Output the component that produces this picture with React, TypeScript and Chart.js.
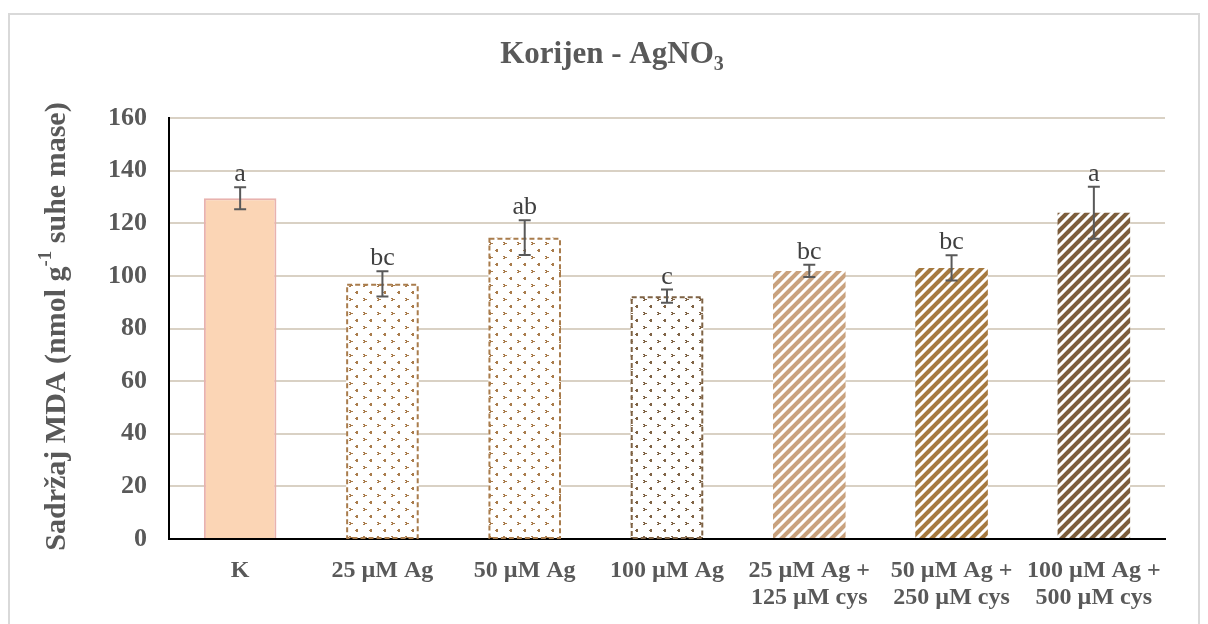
import React, { useEffect, useRef } from "react";
import { Chart, registerables } from "chart.js";

Chart.register(...registerables);

const categories: (string | string[])[] = [
  "K",
  "25 µM Ag",
  "50 µM Ag",
  "100 µM Ag",
  ["25 µM Ag +", "125 µM cys"],
  ["50 µM Ag +", "250 µM cys"],
  ["100 µM Ag +", "500 µM cys"],
];
const mdaValues = [129.5, 97, 114.5, 92.3, 101.9, 103, 124];
const mdaErrors = [4.2, 4.8, 6.6, 2.5, 2.3, 4.8, 9.9];
const letters = ["a", "bc", "ab", "c", "bc", "bc", "a"];
const yTicks = [0, 20, 40, 60, 80, 100, 120, 140, 160];

// fill kind per bar: solid, dotted, striped
const fillKinds = ["solid", "dots", "dots", "dots", "stripes", "stripes", "stripes"];
const fillColors = ["#FBD5B5", "#A97C4C", "#A97C4C", "#7F6345", "#C9A27E", "#A67A40", "#7D5E3D"];
const borderColors = ["#E8B2AE", "#A97C4C", "#A97C4C", "#7F6345", "#C9A27E", "#A67A40", "#7D5E3D"];

const SERIF = "'Liberation Serif', 'Times New Roman', serif";
const GRAY = "#595959";

function dotPattern(color: string): CanvasPattern | string {
  const s = 14;
  const c = document.createElement("canvas");
  c.width = s;
  c.height = s;
  const g = c.getContext("2d");
  if (!g) return color;
  g.fillStyle = "#ffffff";
  g.fillRect(0, 0, s, s);
  g.fillStyle = color;
  // small chevron-like specks in staggered rows
  const speck = (x: number, y: number, dir: number) => {
    g.fillRect(x, y, 2, 1);
    g.fillRect(x + dir, y + 1, 3, 1);
    g.fillRect(x, y + 2, 2, 1);
  };
  speck(3, 3, 1);
  speck(10, 10, -1);
  const p = g.createPattern(c, "repeat");
  return p || color;
}

function stripePattern(color: string): CanvasPattern | string {
  const s = 10;
  const c = document.createElement("canvas");
  c.width = s;
  c.height = s;
  const g = c.getContext("2d");
  if (!g) return color;
  g.fillStyle = color;
  g.fillRect(0, 0, s, s);
  g.strokeStyle = "#ffffff";
  g.lineWidth = 3;
  g.beginPath();
  // diagonals "/" : x + y = k
  for (const k of [0, s, 2 * s]) {
    g.moveTo(-2, k + 2);
    g.lineTo(k + 2, -2);
  }
  g.stroke();
  const p = g.createPattern(c, "repeat");
  return p || color;
}

const decorPlugin = {
  id: "decor",
  afterDraw(chart: any) {
    const ctx: CanvasRenderingContext2D = chart.ctx;
    const y = chart.scales.y;
    const area = chart.chartArea;
    const meta = chart.getDatasetMeta(0);

    // dashed outlines of the dotted bars
    ctx.save();
    meta.data.forEach((bar: any, i: number) => {
      if (fillKinds[i] !== "dots") return;
      const p = bar.getProps(["x", "y", "base", "width"], true);
      ctx.strokeStyle = borderColors[i];
      ctx.lineWidth = 2;
      ctx.setLineDash([5, 3]);
      ctx.strokeRect(p.x - p.width / 2 + 1, p.y + 1, p.width - 2, p.base - p.y - 1);
    });
    ctx.restore();

    // error bars and significance letters
    ctx.save();
    meta.data.forEach((bar: any, i: number) => {
      const x = bar.x;
      const top = y.getPixelForValue(mdaValues[i] + mdaErrors[i]);
      const bot = y.getPixelForValue(mdaValues[i] - mdaErrors[i]);
      ctx.strokeStyle = GRAY;
      ctx.lineWidth = 2;
      ctx.setLineDash([]);
      ctx.beginPath();
      ctx.moveTo(x, top);
      ctx.lineTo(x, bot);
      ctx.moveTo(x - 6, top);
      ctx.lineTo(x + 6, top);
      ctx.moveTo(x - 6, bot);
      ctx.lineTo(x + 6, bot);
      ctx.stroke();
      ctx.fillStyle = "#404040";
      ctx.font = `26px ${SERIF}`;
      ctx.textAlign = "center";
      ctx.textBaseline = "alphabetic";
      ctx.fillText(letters[i], x, top - 6);
    });
    ctx.restore();

    // title with subscript
    ctx.save();
    ctx.fillStyle = GRAY;
    ctx.font = `bold 31px ${SERIF}`;
    const main = "Korijen - AgNO";
    const wMain = ctx.measureText(main).width;
    ctx.font = `bold 20px ${SERIF}`;
    const wSub = ctx.measureText("3").width;
    const cx = chart.width / 2 + 8;
    const startX = cx - (wMain + wSub) / 2;
    ctx.textAlign = "left";
    ctx.textBaseline = "alphabetic";
    ctx.font = `bold 31px ${SERIF}`;
    ctx.fillText(main, startX, 48);
    ctx.font = `bold 20px ${SERIF}`;
    ctx.fillText("3", startX + wMain, 55);
    ctx.restore();

    // rotated y-axis title with superscript
    ctx.save();
    ctx.fillStyle = GRAY;
    const parts: [string, number, number][] = [
      ["Sadržaj MDA (nmol g", 30, 0],
      ["-1", 19, -11],
      [" suhe mase)", 30, 0],
    ];
    let total = 0;
    for (const [t, s] of parts) {
      ctx.font = `bold ${s}px ${SERIF}`;
      total += ctx.measureText(t).width;
    }
    const cyT = (area.top + area.bottom) / 2 - 2;
    ctx.translate(47, cyT);
    ctx.rotate(-Math.PI / 2);
    let px = -total / 2;
    ctx.textAlign = "left";
    ctx.textBaseline = "middle";
    for (const [t, s, off] of parts) {
      ctx.font = `bold ${s}px ${SERIF}`;
      ctx.fillText(t, px, off);
      px += ctx.measureText(t).width;
    }
    ctx.restore();
  },
};

export default function App() {
  const ref = useRef<HTMLCanvasElement | null>(null);

  useEffect(() => {
    if (!ref.current) return;
    const bg = fillKinds.map((k, i) =>
      k === "solid" ? fillColors[i] : k === "dots" ? dotPattern(fillColors[i]) : stripePattern(fillColors[i])
    );
    const chart = new Chart(ref.current, {
      type: "bar",
      data: {
        labels: categories,
        datasets: [
          {
            data: mdaValues,
            backgroundColor: bg as any,
            borderColor: fillKinds.map((k, i) => (k === "solid" ? borderColors[i] : "rgba(0,0,0,0)")),
            borderWidth: fillKinds.map((k) => (k === "solid" ? 2 : 0)),
            barPercentage: 0.51,
            categoryPercentage: 1,
          },
        ],
      },
      options: {
        animation: false,
        responsive: false,
        maintainAspectRatio: false,
        layout: { padding: { top: 103, right: 33, left: 0, bottom: 0 } },
        plugins: {
          legend: { display: false },
          tooltip: { enabled: false },
          title: { display: false },
        },
        scales: {
          x: {
            grid: { display: false, drawTicks: false },
            border: { color: "#000000", width: 2 },
            ticks: {
              color: GRAY,
              font: { family: SERIF, size: 24, weight: "bold", lineHeight: 1.12 },
              padding: 18,
              maxRotation: 0,
              autoSkip: false,
            },
            afterFit: (s: any) => {
              s.height = 85;
            },
          },
          y: {
            min: 0,
            max: 160,
            afterBuildTicks: (s: any) => {
              s.ticks = yTicks.map((v) => ({ value: v }));
            },
            grid: { color: "#D9D1C4", lineWidth: 2, drawTicks: false },
            border: { color: "#000000", width: 2 },
            ticks: {
              color: GRAY,
              font: { family: SERIF, size: 26, weight: "bold" },
              padding: 22,
            },
            afterFit: (s: any) => {
              s.width = 159;
            },
          },
        },
      },
      plugins: [decorPlugin],
    });
    return () => chart.destroy();
  }, []);

  return (
    <div
      style={{
        marginTop: 5,
        width: 1188,
        height: 620,
        border: "2px solid #D9D9D9",
        boxSizing: "content-box",
      }}
    >
      <canvas ref={ref} width={1188} height={609} style={{ display: "block" }} />
    </div>
  );
}
